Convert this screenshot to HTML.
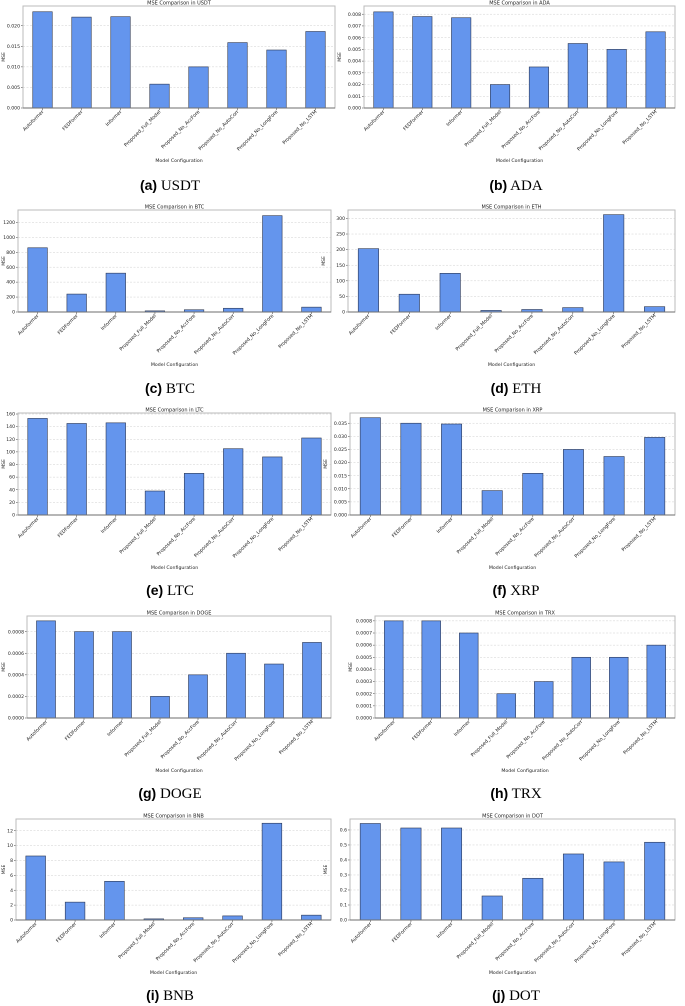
<!DOCTYPE html>
<html><head><meta charset="utf-8">
<style>
body{margin:0;background:#fff;}
svg{display:block;}
text{font-family:"DejaVu Sans","Liberation Sans",sans-serif;}
</style></head>
<body>
<svg id="fig" width="685" height="1006" viewBox="0 0 685 1006"></svg>
<script>
const categories = ["Autoformer","FEDFormer","Informer","Proposed_Full_Model","Proposed_No_AccFore","Proposed_No_AutoCorr","Proposed_No_LongFore","Proposed_No_LSTM"];
const coins = ["USDT","ADA","BTC","ETH","LTC","XRP","DOGE","TRX","BNB","DOT"];
const letters = ["a","b","c","d","e","f","g","h","i","j"];
const usdtValues = [0.0234,0.0221,0.0222,0.0058,0.0100,0.0159,0.0141,0.0186];
const adaValues = [0.0082,0.0078,0.0077,0.0020,0.0035,0.0055,0.0050,0.0065];
const btcValues = [860,240,520,15,30,50,1290,65];
const ethValues = [203,57,124,5,8,14,312,17];
const ltcValues = [153,145,146,38,66,105,92,122];
const xrpValues = [0.0371,0.0350,0.0347,0.0093,0.0159,0.0250,0.0223,0.0296];
const dogeValues = [0.0009,0.0008,0.0008,0.0002,0.0004,0.0006,0.0005,0.0007];
const trxValues = [0.0008,0.0008,0.0007,0.0002,0.0003,0.0005,0.0005,0.0006];
const bnbValues = [8.6,2.4,5.2,0.15,0.3,0.55,13.0,0.65];
const dotValues = [0.643,0.613,0.613,0.16,0.278,0.44,0.387,0.518];
const usdtTicks = ["0.000","0.005","0.010","0.015","0.020"];
const adaTicks = ["0.000","0.001","0.002","0.003","0.004","0.005","0.006","0.007","0.008"];
const btcTicks = ["0","200","400","600","800","1000","1200"];
const ethTicks = ["0","50","100","150","200","250","300"];
const ltcTicks = ["0","20","40","60","80","100","120","140","160"];
const xrpTicks = ["0.000","0.005","0.010","0.015","0.020","0.025","0.030","0.035"];
const dogeTicks = ["0.0000","0.0002","0.0004","0.0006","0.0008"];
const trxTicks = ["0.0000","0.0001","0.0002","0.0003","0.0004","0.0005","0.0006","0.0007","0.0008"];
const bnbTicks = ["0","2","4","6","8","10","12"];
const dotTicks = ["0.0","0.1","0.2","0.3","0.4","0.5","0.6"];
const yMaxes = [0.0248,0.0087,1366,327,161.6,0.0389,0.000945,0.00084,13.57,0.673];

const allValues=[usdtValues,adaValues,btcValues,ethValues,ltcValues,xrpValues,dogeValues,trxValues,bnbValues,dotValues];
const allTicks=[usdtTicks,adaTicks,btcTicks,ethTicks,ltcTicks,xrpTicks,dogeTicks,trxTicks,bnbTicks,dotTicks];
const rowTop=[6,210,413,616,819], rowBot=[108,312,515,718,920];
const leftX=[[23,364],[18,348],[18,350],[27,375],[16,350]];
const rightX=[[335,675],[331,675],[331,675],[331,675],[331,675]];
const captionY=[190,393,595,798,1000];
const NS="http://www.w3.org/2000/svg";
const svg=document.getElementById('fig');
function mk(tag,attrs,parent,txt){const e=document.createElementNS(NS,tag);for(const k in attrs)e.setAttribute(k,attrs[k]);if(txt!==undefined)e.textContent=txt;parent.appendChild(e);return e;}

for(let i=0;i<10;i++){
  const r=Math.floor(i/2), c=i%2;
  const L=leftX[r][c], R=rightX[r][c], T=rowTop[r], B=rowBot[r];
  const vals=allValues[i], ticks=allTicks[i], ymax=yMaxes[i];
  const y=v=>B-(v/ymax)*(B-T);
  const slot=(R-L)/categories.length;
  const x=k=>L+slot*(k+0.5);
  const g=mk('g',{},svg);
  
  
  ticks.forEach(t=>{
    const v=parseFloat(t), yy=y(v);
    const gl=mk('line',{x1:L,x2:R,y1:yy,y2:yy,stroke:'#cfcfcf','stroke-width':0.5,'stroke-dasharray':'2,1.5'},g);
    
    
    mk('line',{x1:L-2,x2:L,y1:yy,y2:yy,stroke:'#333','stroke-width':0.5},g);
    const tl=mk('text',{x:L-3,y:yy+1.6,'font-size':4.6,'text-anchor':'end',fill:'#222'},g,t);
    
    
  });
  vals.forEach((v,k)=>{
    const bw=slot*0.5;
    const b=mk('rect',{x:x(k)-bw/2,y:y(v),width:bw,height:B-y(v),fill:'#6495ED',stroke:'#2a3550','stroke-width':0.6},g);
    
    
    mk('line',{x1:x(k),x2:x(k),y1:B,y2:B+2,stroke:'#333','stroke-width':0.5},g);
    const xl=mk('text',{x:x(k)+1.5,y:B+4,'font-size':4.8,'text-anchor':'end',fill:'#222',transform:`rotate(-45 ${x(k)+1.5} ${B+4})`},g,categories[k]);
    
    
  });
  const fr=mk('rect',{x:L,y:T,width:R-L,height:B-T,fill:'none',stroke:'#bbb','stroke-width':1},g);
  
  
  mk('line',{x1:L,x2:R,y1:B,y2:B,stroke:'#555','stroke-width':0.8},g);
  const ti=mk('text',{x:(L+R)/2,y:T-1.5,'font-size':5,'text-anchor':'middle',fill:'#222'},g,'MSE Comparison in '+coins[i]);
  
  
  const yl=mk('text',{x:0,y:0,'font-size':4.5,'text-anchor':'middle',fill:'#222',transform:`translate(${c?L-23:5},${(T+B)/2}) rotate(-90)`},g,'MSE');
  
  
  const xt=mk('text',{x:(L+R)/2,y:B+54,'font-size':4.7,'text-anchor':'middle',fill:'#222'},g,'Model Configuration');
  
  
  const cap=mk('text',{x:c?516:170,y:captionY[r],'text-anchor':'middle','font-size':15,fill:'#000'},g);
  
  
  mk('tspan',{'font-family':'Liberation Sans, sans-serif','font-weight':'bold','font-size':14},cap,'('+letters[i]+')');
  mk('tspan',{'font-family':'Liberation Serif, serif'},cap,' '+coins[i]);
}
</script>
</body></html>
